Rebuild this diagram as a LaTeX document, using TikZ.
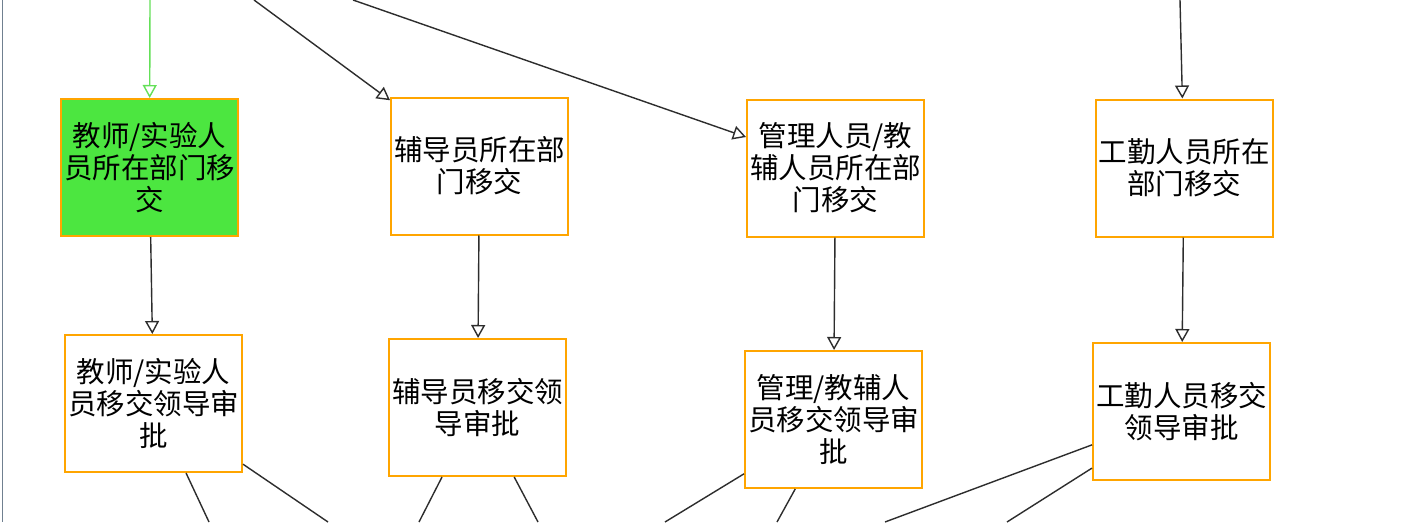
\documentclass[tikz,border=0pt]{standalone}
\usepackage{fontspec}
\newfontfamily\cjk{Noto Sans CJK SC}
\usetikzlibrary{arrows.meta}
\definecolor{boxorange}{RGB}{255,165,0}
\definecolor{boxgreen}{RGB}{76,230,64}
\definecolor{greenline}{RGB}{100,224,88}
\definecolor{edgegray}{RGB}{45,45,45}
\definecolor{leftborder}{RGB}{112,128,144}
\tikzset{
  stepbox/.style={draw=boxorange, line width=2pt, fill=white, rectangle,
    minimum width=177pt, minimum height=137pt, inner sep=0pt, align=center,
    font=\cjk\fontsize{28.5}{32}\selectfont},
  activebox/.style={stepbox, fill=boxgreen},
  flow/.style={draw=edgegray, line width=1.4pt,
    -{Triangle[open, length=13pt, width=14pt, line width=1.4pt]}},
  greenflow/.style={flow, draw=greenline},
  plainflow/.style={draw=edgegray, line width=1.4pt},
}
\begin{document}
\begin{tikzpicture}[x=1pt, y=-1pt]
\useasboundingbox (0,0) rectangle (1410,522);
\fill[white] (0,0) rectangle (1410,522);
\draw[leftborder, line width=1.5pt] (2.5,0) -- (2.5,522);

% row 1
\node[activebox] (A1) at (149.5,167.5) {教师/实验人\\员所在部门移\\交};
\node[stepbox] (B1) at (479.5,166) {辅导员所在部\\门移交};
\node[stepbox] (C1) at (835.5,168) {管理人员/教\\辅人员所在部\\门移交};
\node[stepbox] (D1) at (1184,168) {工勤人员所在\\部门移交};

% row 2
\node[stepbox] (A2) at (153.5,403.5) {教师/实验人\\员移交领导审\\批};
\node[stepbox] (B2) at (477.5,407.5) {辅导员移交领\\导审批};
\node[stepbox] (C2) at (833.5,419.5) {管理/教辅人\\员移交领导审\\批};
\node[stepbox] (D2) at (1181.5,411.5) {工勤人员移交\\领导审批};

% incoming from above
\coordinate (s1) at (150,0);
\coordinate (s2) at (254,0);
\coordinate (s3) at (353,0);
\coordinate (s4) at (1180,0);
\draw[greenflow] (s1) -- (A1);
\draw[flow] (s2) -- (B1);
\draw[flow] (s3) -- (C1);
\draw[flow] (s4) -- (D1);

% row 1 to row 2
\draw[flow] (A1) -- (A2);
\draw[flow] (B1) -- (B2);
\draw[flow] (C1) -- (C2);
\draw[flow] (D1) -- (D2);

% outgoing to below
\coordinate (e1) at (209,522);
\coordinate (e2) at (328,522);
\coordinate (e3) at (419,522);
\coordinate (e4) at (538,522);
\coordinate (e5) at (665,522);
\coordinate (e6) at (777,522);
\coordinate (e7) at (885,522);
\coordinate (e8) at (1007,522);
\draw[plainflow] (A2) -- (e1);
\draw[plainflow] (A2) -- (e2);
\draw[plainflow] (B2) -- (e3);
\draw[plainflow] (B2) -- (e4);
\draw[plainflow] (C2) -- (e5);
\draw[plainflow] (C2) -- (e6);
\draw[plainflow] (D2) -- (e7);
\draw[plainflow] (D2) -- (e8);
\end{tikzpicture}
\end{document}
